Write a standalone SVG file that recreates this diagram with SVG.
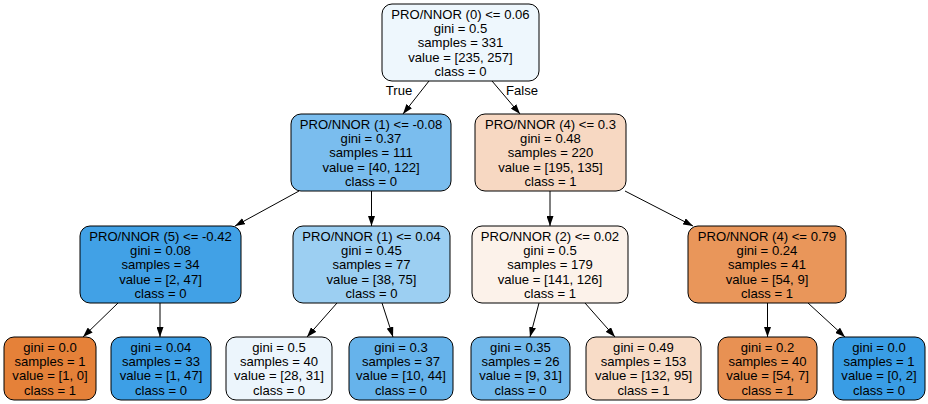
<svg xmlns="http://www.w3.org/2000/svg" width="928" height="404" viewBox="0 0 928 404">
<style>
.n{stroke:#000;stroke-width:1}
text{font-family:"Liberation Sans",Arial,sans-serif;font-size:13.1px;fill:#000;text-anchor:middle}
.e{stroke:#000;stroke-width:1;fill:none;marker-end:url(#ah)}
</style>
<defs>
<marker id="ah" markerWidth="10" markerHeight="7" refX="10" refY="3.5" orient="auto" markerUnits="userSpaceOnUse"><path d="M0,0 L10,3.5 L0,7 z" fill="#000"/></marker>
</defs>
<rect width="928" height="404" fill="#fff"/>
<g id="connectors">
<line class="e" x1="429" y1="81" x2="403" y2="114"/>
<line class="e" x1="492" y1="81" x2="520" y2="114"/>
<line class="e" x1="299" y1="191" x2="235" y2="226"/>
<line class="e" x1="371.5" y1="191" x2="371.5" y2="226"/>
<line class="e" x1="550" y1="191" x2="550" y2="226"/>
<line class="e" x1="625" y1="191" x2="693" y2="226"/>
<line class="e" x1="118" y1="303" x2="83" y2="337"/>
<line class="e" x1="160" y1="303" x2="160" y2="337"/>
<line class="e" x1="337" y1="303" x2="307" y2="337"/>
<line class="e" x1="382" y1="303" x2="393" y2="337"/>
<line class="e" x1="539" y1="303" x2="530" y2="337"/>
<line class="e" x1="585" y1="303" x2="615" y2="337"/>
<line class="e" x1="767.5" y1="303" x2="767.5" y2="337"/>
<line class="e" x1="808" y1="303" x2="845" y2="337"/>
<text x="399" y="95">True</text>
<text x="522" y="95">False</text>
</g>
<g id="n0"><rect class="n" x="382" y="4" width="157" height="77" rx="10" fill="#eef7fd"/>
<text x="460.5" y="18.6">PRO/NNOR (0) &lt;= 0.06</text><text x="460.5" y="32.9">gini = 0.5</text><text x="460.5" y="47.2">samples = 331</text><text x="460.5" y="61.5">value = [235, 257]</text><text x="460.5" y="75.8">class = 0</text></g>
<g id="n1"><rect class="n" x="291" y="114" width="160" height="77" rx="10" fill="#7abdee"/>
<text x="371" y="128.6">PRO/NNOR (1) &lt;= -0.08</text><text x="371" y="142.9">gini = 0.37</text><text x="371" y="157.2">samples = 111</text><text x="371" y="171.5">value = [40, 122]</text><text x="371" y="185.8">class = 0</text></g>
<g id="n8"><rect class="n" x="475" y="114" width="151" height="77" rx="10" fill="#f7d8c2"/>
<text x="550.5" y="128.6">PRO/NNOR (4) &lt;= 0.3</text><text x="550.5" y="142.9">gini = 0.48</text><text x="550.5" y="157.2">samples = 220</text><text x="550.5" y="171.5">value = [195, 135]</text><text x="550.5" y="185.8">class = 1</text></g>
<g id="n2"><rect class="n" x="80" y="226" width="161" height="77" rx="10" fill="#41a1e6"/>
<text x="160.5" y="240.6">PRO/NNOR (5) &lt;= -0.42</text><text x="160.5" y="254.9">gini = 0.08</text><text x="160.5" y="269.2">samples = 34</text><text x="160.5" y="283.5">value = [2, 47]</text><text x="160.5" y="297.8">class = 0</text></g>
<g id="n5"><rect class="n" x="293" y="226" width="157" height="77" rx="10" fill="#9ccff2"/>
<text x="371.5" y="240.6">PRO/NNOR (1) &lt;= 0.04</text><text x="371.5" y="254.9">gini = 0.45</text><text x="371.5" y="269.2">samples = 77</text><text x="371.5" y="283.5">value = [38, 75]</text><text x="371.5" y="297.8">class = 0</text></g>
<g id="n9"><rect class="n" x="472" y="226" width="156" height="77" rx="10" fill="#fcf2ea"/>
<text x="550" y="240.6">PRO/NNOR (2) &lt;= 0.02</text><text x="550" y="254.9">gini = 0.5</text><text x="550" y="269.2">samples = 179</text><text x="550" y="283.5">value = [141, 126]</text><text x="550" y="297.8">class = 1</text></g>
<g id="n12"><rect class="n" x="688" y="226" width="158" height="77" rx="10" fill="#e9965a"/>
<text x="767" y="240.6">PRO/NNOR (4) &lt;= 0.79</text><text x="767" y="254.9">gini = 0.24</text><text x="767" y="269.2">samples = 41</text><text x="767" y="283.5">value = [54, 9]</text><text x="767" y="297.8">class = 1</text></g>
<g id="n3"><rect class="n" x="4" y="337" width="92" height="63" rx="10" fill="#e58139"/>
<text x="50" y="351.8">gini = 0.0</text><text x="50" y="366.1">samples = 1</text><text x="50" y="380.4">value = [1, 0]</text><text x="50" y="394.7">class = 1</text></g>
<g id="n4"><rect class="n" x="111" y="337" width="100" height="63" rx="10" fill="#3d9fe6"/>
<text x="161" y="351.8">gini = 0.04</text><text x="161" y="366.1">samples = 33</text><text x="161" y="380.4">value = [1, 47]</text><text x="161" y="394.7">class = 0</text></g>
<g id="n6"><rect class="n" x="226" y="337" width="106" height="63" rx="10" fill="#ecf5fc"/>
<text x="279" y="351.8">gini = 0.5</text><text x="279" y="366.1">samples = 40</text><text x="279" y="380.4">value = [28, 31]</text><text x="279" y="394.7">class = 0</text></g>
<g id="n7"><rect class="n" x="349" y="337" width="104" height="63" rx="10" fill="#66b3eb"/>
<text x="401" y="351.8">gini = 0.3</text><text x="401" y="366.1">samples = 37</text><text x="401" y="380.4">value = [10, 44]</text><text x="401" y="394.7">class = 0</text></g>
<g id="n10"><rect class="n" x="471" y="337" width="99" height="63" rx="10" fill="#72b9ec"/>
<text x="520.5" y="351.8">gini = 0.35</text><text x="520.5" y="366.1">samples = 26</text><text x="520.5" y="380.4">value = [9, 31]</text><text x="520.5" y="394.7">class = 0</text></g>
<g id="n11"><rect class="n" x="586" y="337" width="115" height="63" rx="10" fill="#f8dcc7"/>
<text x="643.5" y="351.8">gini = 0.49</text><text x="643.5" y="366.1">samples = 153</text><text x="643.5" y="380.4">value = [132, 95]</text><text x="643.5" y="394.7">class = 1</text></g>
<g id="n13"><rect class="n" x="718" y="337" width="99" height="63" rx="10" fill="#e89153"/>
<text x="767.5" y="351.8">gini = 0.2</text><text x="767.5" y="366.1">samples = 40</text><text x="767.5" y="380.4">value = [54, 7]</text><text x="767.5" y="394.7">class = 1</text></g>
<g id="n14"><rect class="n" x="833" y="337" width="92" height="63" rx="10" fill="#399de5"/>
<text x="879" y="351.8">gini = 0.0</text><text x="879" y="366.1">samples = 1</text><text x="879" y="380.4">value = [0, 2]</text><text x="879" y="394.7">class = 0</text></g>
</svg>
